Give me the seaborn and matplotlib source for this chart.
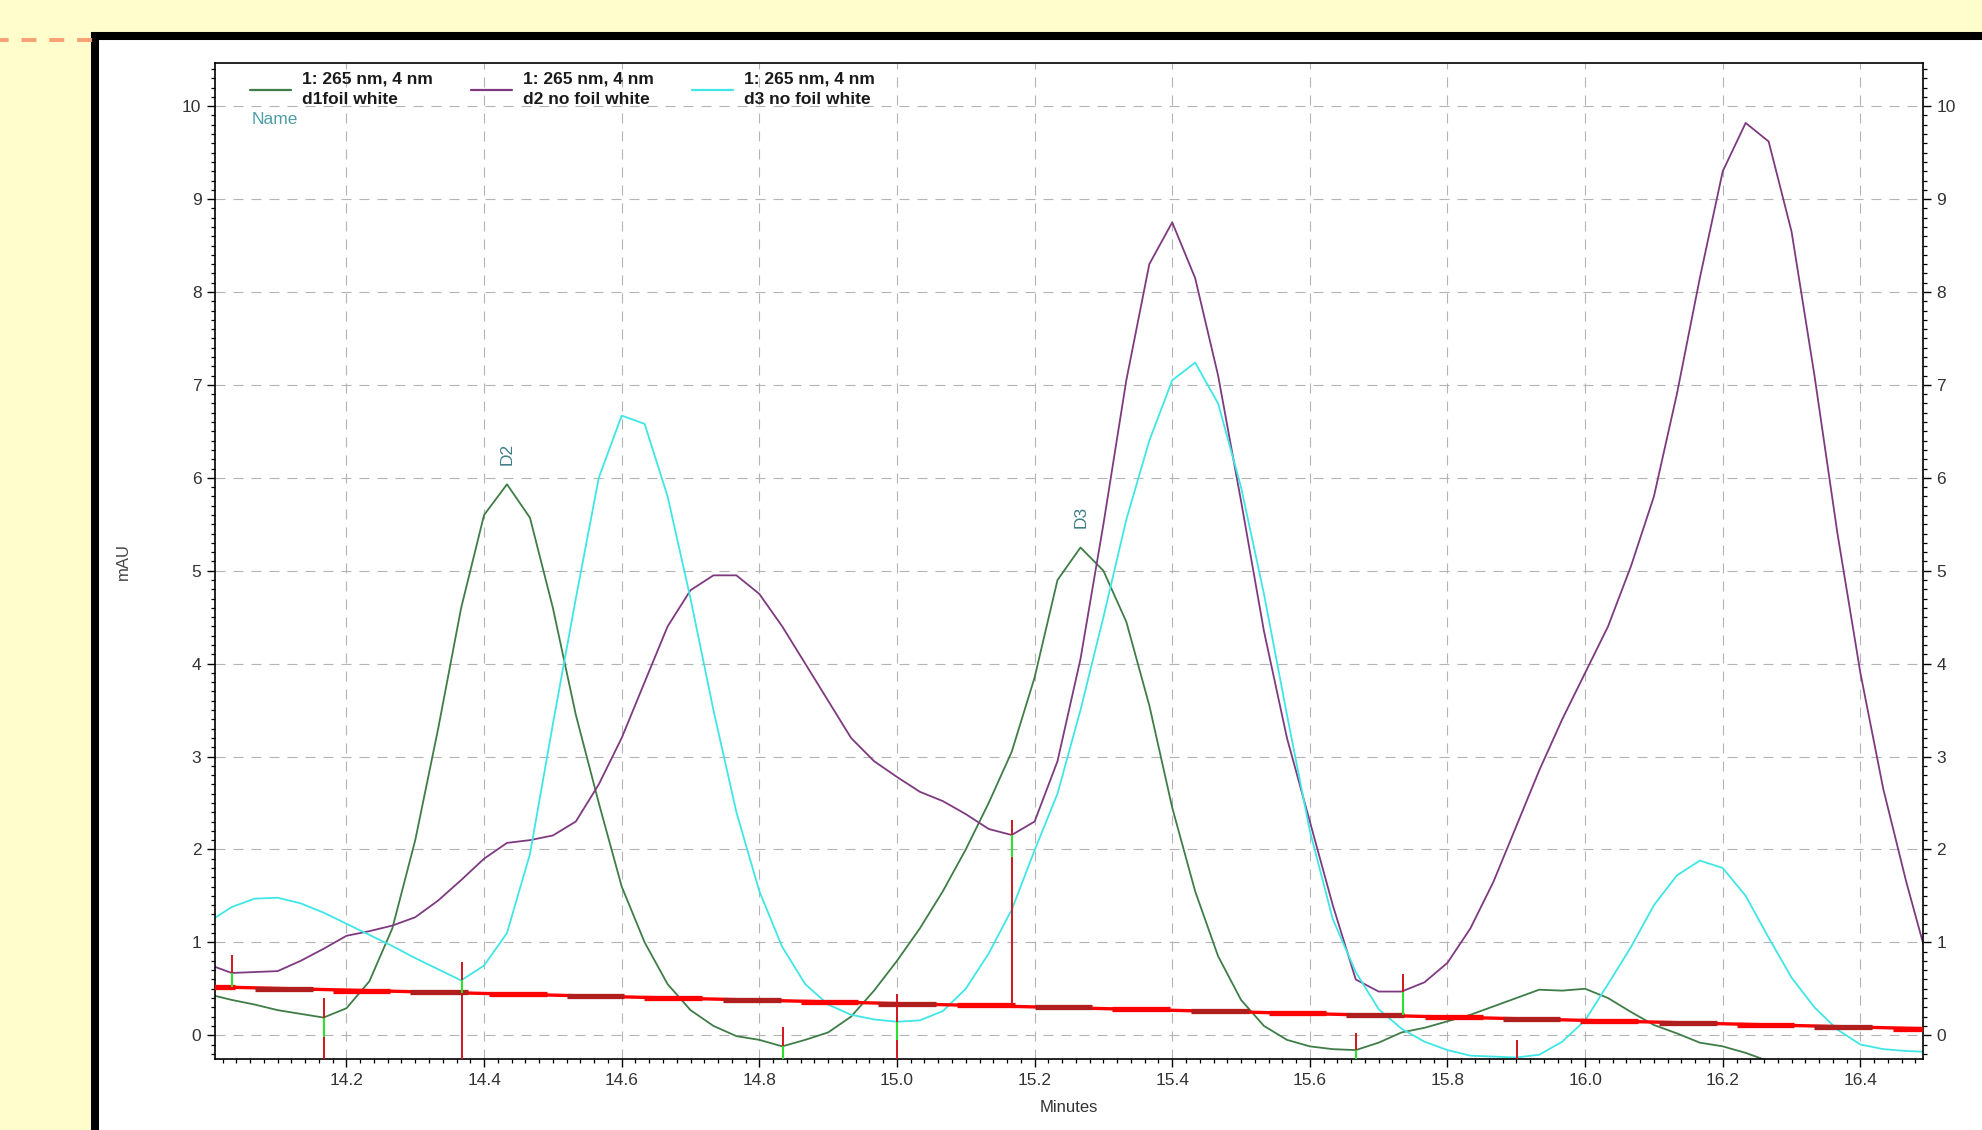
import numpy as np
import pandas as pd
import matplotlib.pyplot as plt
import matplotlib.ticker as mticker
from matplotlib.patches import Rectangle
from matplotlib.lines import Line2D
import seaborn as sns

nan = np.nan

# detector sampled at 2 Hz -> one point every 1/30 min
minutes = [round(14.0 + k / 30, 4) for k in range(76)]

d1_foil = [0.44, 0.38, 0.33, 0.27, 0.23, 0.19, 0.29, 0.58, 1.15, 2.10,
           3.30, 4.60, 5.60, 5.93, 5.57, 4.60, 3.45, 2.50, 1.60, 1.00,
           0.55, 0.27, 0.10, -0.01, -0.05, -0.12, -0.05, 0.03, 0.20, 0.48,
           0.80, 1.15, 1.55, 2.00, 2.50, 3.05, 3.85, 4.90, 5.25, 5.00,
           4.45, 3.55, 2.45, 1.55, 0.85, 0.38, 0.10, -0.05, -0.12, -0.15,
           -0.16, -0.08, 0.03, 0.08, 0.15, 0.22, 0.31, 0.40, 0.49, 0.48,
           0.50, 0.40, 0.25, 0.11, 0.02, -0.08, -0.12, -0.19, -0.28, -0.36,
           nan, nan, nan, nan, nan, nan]

d2_nofoil = [0.76, 0.67, 0.68, 0.69, 0.80, 0.93, 1.07, 1.12, 1.18, 1.27,
             1.45, 1.67, 1.90, 2.07, 2.10, 2.15, 2.30, 2.70, 3.20, 3.80,
             4.40, 4.79, 4.95, 4.95, 4.75, 4.40, 4.00, 3.60, 3.20, 2.95,
             2.78, 2.62, 2.52, 2.38, 2.22, 2.155, 2.30, 2.95, 4.05, 5.50,
             7.05, 8.30, 8.75, 8.15, 7.10, 5.75, 4.35, 3.20, 2.30, 1.40,
             0.60, 0.47, 0.47, 0.57, 0.78, 1.15, 1.65, 2.25, 2.85, 3.40,
             3.90, 4.40, 5.05, 5.80, 6.90, 8.15, 9.30, 9.82, 9.62, 8.65,
             7.10, 5.40, 3.90, 2.65, 1.65, 0.75]

d3_nofoil = [1.22, 1.38, 1.47, 1.48, 1.42, 1.32, 1.20, 1.08, 0.96, 0.83,
             0.71, 0.59, 0.75, 1.10, 1.95, 3.35, 4.70, 6.00, 6.67, 6.58,
             5.80, 4.70, 3.50, 2.40, 1.55, 0.95, 0.55, 0.33, 0.22, 0.17,
             0.145, 0.16, 0.26, 0.50, 0.88, 1.35, 1.99, 2.60, 3.50, 4.50,
             5.55, 6.40, 7.05, 7.24, 6.80, 5.90, 4.75, 3.45, 2.20, 1.25,
             0.68, 0.28, 0.07, -0.07, -0.16, -0.22, -0.23, -0.24, -0.21, -0.07,
             0.16, 0.55, 0.95, 1.40, 1.72, 1.88, 1.80, 1.50, 1.05, 0.62,
             0.30, 0.06, -0.10, -0.15, -0.17, -0.18]

labels = ['1: 265 nm, 4 nm\nd1foil white',
          '1: 265 nm, 4 nm\nd2 no foil white',
          '1: 265 nm, 4 nm\nd3 no foil white']

# integration baseline (thin line + alternating step segments)
baseline_x = [14.0, 16.5]
baseline_y = [0.522, 0.069]
step_start = [13.954, 14.067, 14.180, 14.293, 14.407, 14.520, 14.633, 14.747,
              14.860, 14.973, 15.087, 15.200, 15.313, 15.427, 15.540, 15.653,
              15.767, 15.880, 15.993, 16.107, 16.220, 16.333, 16.447]
step_level = [0.52, 0.50, 0.48, 0.46, 0.44, 0.42, 0.40, 0.38, 0.36, 0.34, 0.32,
              0.30, 0.28, 0.26, 0.235, 0.215, 0.195, 0.175, 0.155, 0.13, 0.11,
              0.09, 0.07]
step_width = 0.084

# peak delimiters
mark_x = [14.033, 14.168, 14.368, 14.835, 15.0, 15.167, 15.667, 15.735, 15.901]
mark_top = [0.86, 0.40, 0.79, 0.085, 0.44, 2.32, 0.02, 0.66, -0.05]
mark_bottom = [0.52, -0.26, -0.26, -0.26, -0.26, 0.32, -0.26, 0.21, -0.26]
green_top = [0.67, 0.19, 0.59, -0.12, 0.145, 2.155, -0.16, 0.47, nan]
green_bottom = [0.52, -0.02, 0.45, -0.26, -0.05, 1.92, -0.26, 0.22, nan]

peak_names = ['D2', 'D3']
peak_x = [14.433, 15.267]
peak_y = [5.93, 5.25]

#%%
df = pd.DataFrame({
    'Minutes': minutes * 3,
    'mAU': d1_foil + d2_nofoil + d3_nofoil,
    'sample': [labels[0]] * 76 + [labels[1]] * 76 + [labels[2]] * 76,
}).dropna()

colors = ['#3E7D47', '#7E3A80', '#40E6E6']

sns.set_theme(style='ticks')
plt.rcParams['font.family'] = ['Liberation Sans', 'DejaVu Sans']

W, H = 1982, 1130
fig = plt.figure(figsize=(W / 100, H / 100), dpi=100)
fig.patch.set_facecolor('#FFFDCC')

# white panel with thick black frame
fig.add_artist(Rectangle((95 / W, -0.1), 1.2, 1 - 36 / H + 0.1,
                         transform=fig.transFigure, facecolor='white',
                         edgecolor='black', lw=5.8, zorder=-1))
fig.add_artist(Line2D([92 / W, 0], [1 - 40 / H] * 2, transform=fig.transFigure,
                      color='#F6A275', lw=2.9, dashes=(3.7, 3.2), zorder=-1))

ax = fig.add_axes([215 / W, 1 - 1059 / H, 1708 / W, 996 / H])
ax.set_facecolor('white')

sns.lineplot(data=df, x='Minutes', y='mAU', hue='sample', palette=colors,
             hue_order=labels, estimator=None, sort=False, lw=1.3,
             legend=False, ax=ax, zorder=2)

# baseline
ax.plot(baseline_x, baseline_y, color='#FF0000', lw=2.4, zorder=3)
step_cols = ['#FF0000' if i % 2 == 0 else '#B01E1E' for i in range(len(step_start))]
ax.hlines(step_level, step_start, [s + step_width for s in step_start],
          colors=step_cols, lw=3.8, zorder=3)

# peak delimiters
ax.vlines(mark_x, mark_bottom, mark_top, color='#D0161E', lw=1.4, zorder=4)
gm = [i for i in range(len(mark_x)) if not np.isnan(green_top[i])]
ax.vlines([mark_x[i] for i in gm], [green_bottom[i] for i in gm],
          [green_top[i] for i in gm], color='#2EE02E', lw=1.5, zorder=5)

for name, px, py in zip(peak_names, peak_x, peak_y):
    ax.annotate(name, (px, py), xytext=(0, 14), textcoords='offset points',
                rotation=90, ha='center', va='bottom', fontsize=12.5,
                color='#3F7F88')

ax.text(0.0217, 0.943, 'Name', transform=ax.transAxes, ha='left', va='center',
        fontsize=12.5, color='#4E9DA5')

ax.set_xlim(14.009, 16.491)
ax.set_ylim(-0.256, 10.465)

ax.xaxis.set_major_locator(mticker.MultipleLocator(0.2))
ax.xaxis.set_minor_locator(mticker.MultipleLocator(0.02))
ax.xaxis.set_major_formatter(mticker.FormatStrFormatter('%.1f'))
ax.yaxis.set_major_locator(mticker.MultipleLocator(1))
ax.yaxis.set_minor_locator(mticker.MultipleLocator(0.1))
ax.yaxis.set_major_formatter(mticker.FormatStrFormatter('%d'))

ax.tick_params(which='both', direction='out', right=True, labelright=True,
               color='black')
ax.tick_params(which='major', length=5.8, width=1.0, labelsize=12.5, pad=4,
               labelcolor='#333333')
ax.tick_params(which='minor', length=3.0, width=0.9)

ax.grid(True, which='major', color='#B4B4B4', lw=0.8, linestyle=(0, (9, 7.2)))
for sp in ax.spines.values():
    sp.set_color('black')
    sp.set_linewidth(1.2)

ax.set_xlabel('Minutes', fontsize=12, color='#333333')
ax.set_ylabel('mAU', fontsize=12, color='#444444')
ax.xaxis.set_label_coords(0.5, -0.041)
ax.yaxis.set_label_coords(-0.049, 0.5)

handles = [Line2D([], [], color=c, lw=1.6) for c in colors]
leg = ax.legend(handles, labels, ncol=3, loc='upper left',
                bbox_to_anchor=(0.0205, 0.991), frameon=False,
                prop={'size': 12.5, 'weight': 'bold'},
                handlelength=2.36, handletextpad=0.63, columnspacing=2.2,
                borderpad=0, borderaxespad=0)
for t in leg.get_texts():
    t.set_linespacing(1.45)
    t.set_color('#1A1A1A')

plt.savefig('out.png', dpi=100, facecolor=fig.get_facecolor())
